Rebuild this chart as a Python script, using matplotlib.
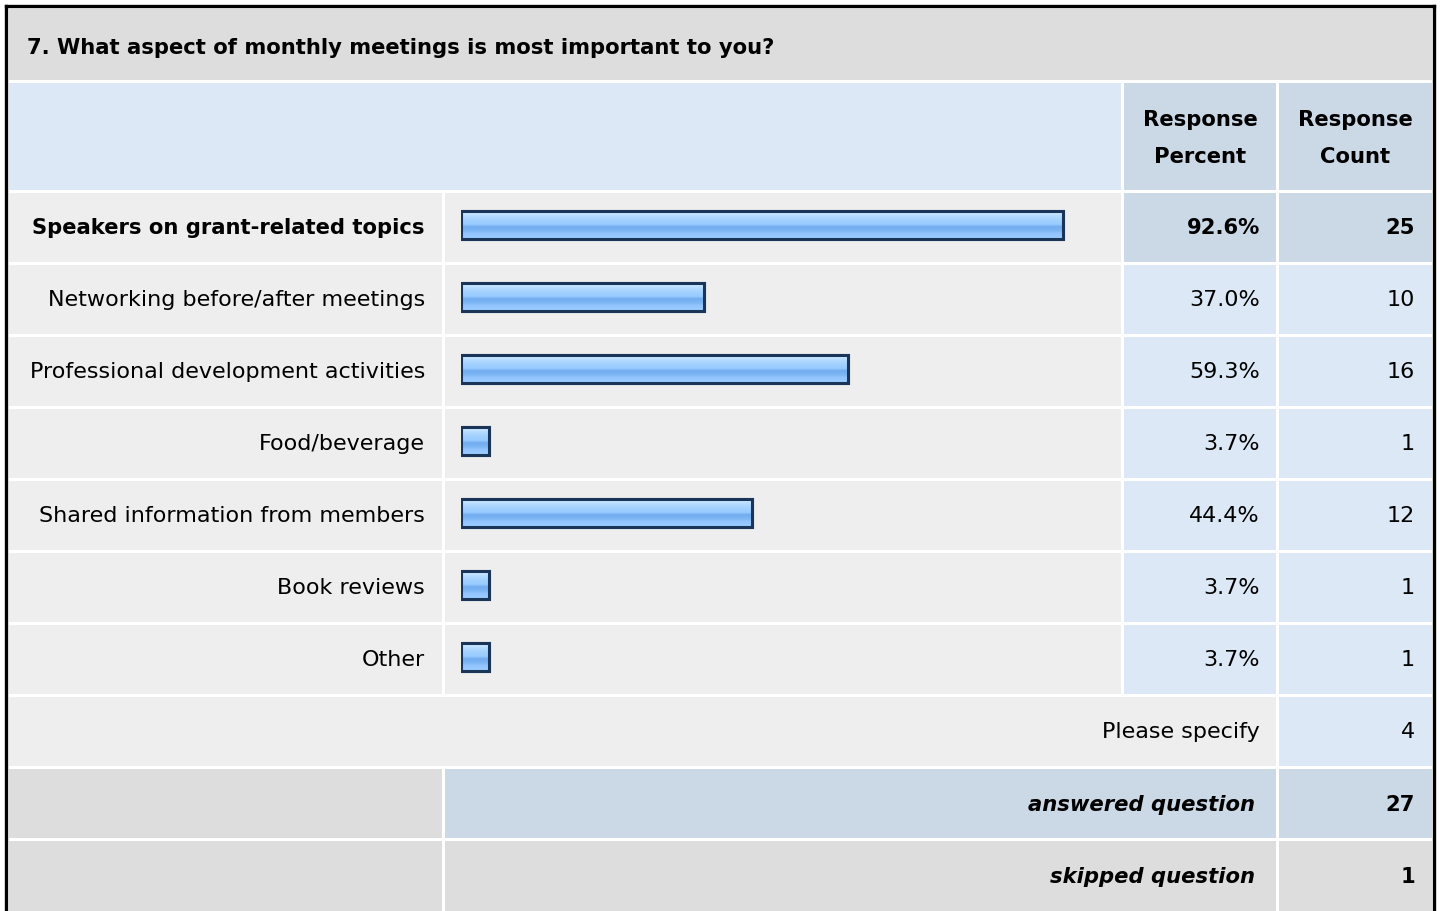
import numpy as np
import matplotlib
matplotlib.use('Agg')
import matplotlib.pyplot as plt
from matplotlib.patches import Rectangle
from matplotlib.colors import LinearSegmentedColormap

plt.rcParams['font.family'] = ['DejaVu Sans']

# Survey data
question = '7. What aspect of monthly meetings is most important to you?'
options = [
    'Speakers on grant-related topics',
    'Networking before/after meetings',
    'Professional development activities',
    'Food/beverage',
    'Shared information from members',
    'Book reviews',
    'Other',
]
percents = [92.6, 37.0, 59.3, 3.7, 44.4, 3.7, 3.7]
counts = [25, 10, 16, 1, 12, 1, 1]
specify_count = 4
answered = 27
skipped = 1

# Colours
GRAY_DARK = '#dddddd'
GRAY_LIGHT = '#eeeeee'
BLUE_LIGHT = '#dce8f5'
BLUE_MID = '#cbd8e6'
FS = 16.0      # regular text
FSB = 15.2     # bold text

W, H = 1440, 911
fig = plt.figure(figsize=(W / 100, H / 100), dpi=100)
ax = fig.add_axes([0, 0, 1, 1])
ax.set_xlim(0, W)
ax.set_ylim(H, 0)
ax.axis('off')


def cell(x0, x1, y0, y1, color):
    ax.add_patch(Rectangle((x0, y0), x1 - x0, y1 - y0, facecolor=color,
                           edgecolor='none', zorder=1))


# column edges (pixels)
L0, L1 = 9, 442
B0, B1 = 445, 1121
P0, P1 = 1124, 1276
C0, C1 = 1279, 1432

# title band
cell(L0, C1, 9, 80, GRAY_DARK)
ax.text(27, 48, question, fontsize=15.2, fontweight='bold', va='center', ha='left')

# header
cell(L0, B1, 83, 190, BLUE_LIGHT)
cell(P0, P1, 83, 190, BLUE_MID)
cell(C0, C1, 83, 190, BLUE_MID)
for xc, second in [((P0 + P1) / 2, 'Percent'), ((C0 + C1) / 2, 'Count')]:
    ax.text(xc, 120, 'Response', fontsize=FSB, fontweight='bold', ha='center', va='center')
    ax.text(xc, 157, second, fontsize=FSB, fontweight='bold', ha='center', va='center')

# data rows
row_top = 193
pitch = 72
for i, (lab, pct, cnt) in enumerate(zip(options, percents, counts)):
    y0 = row_top + pitch * i
    y1 = y0 + 69
    yc = (y0 + y1) / 2 + 1
    bold = 'bold' if i == 0 else 'normal'
    fs = FSB if i == 0 else FS
    cell(L0, L1, y0, y1, GRAY_LIGHT)
    cell(B0, B1, y0, y1, GRAY_LIGHT)
    cell(P0, P1, y0, y1, BLUE_MID if i == 0 else BLUE_LIGHT)
    cell(C0, C1, y0, y1, BLUE_MID if i == 0 else BLUE_LIGHT)
    ax.text(425, yc, lab, fontsize=fs, fontweight=bold, ha='right', va='center')
    ax.text(1260, yc, f'{pct:.1f}%', fontsize=fs, fontweight=bold, ha='right', va='center')
    ax.text(1415, yc, str(cnt), fontsize=fs, fontweight=bold, ha='right', va='center')

# please specify row
y0 = row_top + pitch * 7
cell(L0, P1, y0, y0 + 69, GRAY_LIGHT)
cell(C0, C1, y0, y0 + 69, BLUE_LIGHT)
ax.text(1260, y0 + 35, 'Please specify', fontsize=FS, ha='right', va='center')
ax.text(1415, y0 + 35, str(specify_count), fontsize=FS, ha='right', va='center')

# answered row
y0 = row_top + pitch * 8
cell(L0, L1, y0, y0 + 69, GRAY_DARK)
cell(B0, P1, y0, y0 + 69, BLUE_MID)
cell(C0, C1, y0, y0 + 69, BLUE_MID)
ax.text(1255, y0 + 36, 'answered question', fontsize=FSB, fontweight='bold',
        fontstyle='italic', ha='right', va='center')
ax.text(1415, y0 + 36, str(answered), fontsize=FSB, fontweight='bold', ha='right', va='center')

# skipped row
y0 = row_top + pitch * 9
cell(L0, L1, y0, H + 5, GRAY_DARK)
cell(B0, P1, y0, H + 5, GRAY_DARK)
cell(C0, C1, y0, H + 5, GRAY_DARK)
ax.text(1255, y0 + 36, 'skipped question', fontsize=FSB, fontweight='bold',
        fontstyle='italic', ha='right', va='center')
ax.text(1415, y0 + 36, str(skipped), fontsize=FSB, fontweight='bold', ha='right', va='center')

# outer frame
ax.plot([6, 6], [H + 5, 6], color='black', lw=2.4, solid_capstyle='projecting', zorder=5)
ax.plot([6, 1434], [6, 6], color='black', lw=2.4, solid_capstyle='projecting', zorder=5)
ax.plot([1434, 1434], [6, H + 5], color='black', lw=2.4, solid_capstyle='projecting', zorder=5)

# bar axes over the bar column, 100% = ~646 px plus a 4 px stub
bx0, bx1 = 461, 461 + 4 + 645.7
by0, by1 = row_top - 4, row_top - 4 + pitch * 7
bax = fig.add_axes([bx0 / W, 1 - by1 / H, (bx1 - bx0) / W, (by1 - by0) / H])
bax.patch.set_alpha(0)
bax.axis('off')
stub = 4 / 6.457

grad = LinearSegmentedColormap.from_list('bar', [
    (0.0, '#d6ecff'), (0.12, '#c4e3ff'), (0.3, '#a6d3ff'), (0.5, '#99cbff'),
    (0.58, '#74acee'), (0.72, '#7db6f4'), (0.82, '#93c6ff'), (1.0, '#9ccdff')])
gimg = np.linspace(0, 1, 64).reshape(-1, 1)

ypos = np.arange(len(options))
bars = bax.barh(ypos, np.array(percents) + stub, left=-stub, height=0.39,
                color='#99cbff', edgecolor='#1b3558', linewidth=2.2, zorder=3)
for b in bars:
    x, y = b.get_x(), b.get_y()
    w, h = b.get_width(), b.get_height()
    im = bax.imshow(gimg, cmap=grad, aspect='auto', extent=(x, x + w, y + h, y),
                    zorder=3.5, interpolation='nearest')
    im.set_clip_path(b)
    bax.add_patch(Rectangle((x, y), w, h, facecolor='none', edgecolor='#1b3558',
                            linewidth=2.2, zorder=4))
bax.set_xlim(-stub, 100)
bax.set_ylim(len(options) - 0.5, -0.5)

fig.savefig('out.png', dpi=100)
